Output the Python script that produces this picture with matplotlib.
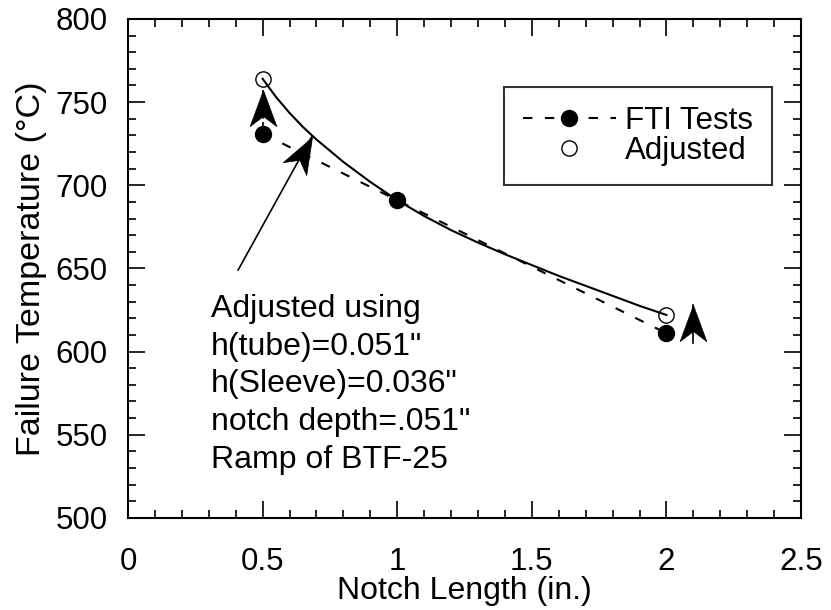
import matplotlib
matplotlib.use('Agg')
import numpy as np
import matplotlib.pyplot as plt
from matplotlib.ticker import MultipleLocator
from matplotlib.path import Path
from matplotlib.markers import MarkerStyle
from matplotlib.transforms import Affine2D

# ---- data ----
notch_tests = [0.5, 1.0, 2.0]
temp_tests = [731, 691, 611]
notch_adj = [0.5, 2.0]
temp_adj = [764, 622]
curve_x = [0.5, 0.55, 0.6, 0.65, 0.7, 0.8, 0.9, 1.0, 1.1, 1.2, 1.3, 1.4, 1.5,
           1.6, 1.7, 1.8, 1.9, 2.0]
curve_y = [764, 753, 743.5, 735, 727.5, 714, 702, 691, 681.5, 673, 665.5, 658.5,
           652, 645.5, 639.5, 633.5, 627.5, 622]

x_ticks = [0, 0.5, 1, 1.5, 2, 2.5]
x_tick_labels = ['0', '0.5', '1', '1.5', '2', '2.5']
y_ticks = [500, 550, 600, 650, 700, 750, 800]
y_tick_labels = ['500', '550', '600', '650', '700', '750', '800']

note_lines = ['Adjusted using', 'h(tube)=0.051"', 'h(Sleeve)=0.036"',
              'notch depth=.051"', 'Ramp of BTF-25']

# arrows: (start x, start y, tip x, tip y, dashed stem)
arrow_up_left = (0.5, 735, 0.5, 757.5, True)
arrow_note = (0.409, 649, 0.682, 729, False)
arrow_up_right = (2.1, 605, 2.1, 628, False)

plt.rcParams['font.family'] = ['Liberation Sans', 'DejaVu Sans']

fig = plt.figure(figsize=(8.31, 6.10), dpi=100)
ax = fig.add_axes([0.154, 0.151, 0.810, 0.818])
ax.set_xlim(0, 2.5)
ax.set_ylim(500, 800)

ax.plot(curve_x, curve_y, color='black', lw=1.5, zorder=2)
ax.plot(notch_tests, temp_tests, color='black', lw=1.5, dashes=(4.5, 6),
        marker='o', ms=11.5, mfc='black', mec='black', label='FTI Tests', zorder=3)
ax.plot(notch_adj, temp_adj, ls='none', marker='o', ms=11, mfc='none',
        mec='black', mew=1.0, label='Adjusted', zorder=3)

# stealth-like arrow head: tip at origin, pointing up
head_path = Path([(0, 0), (-0.37, -1.0), (0, -0.72), (0.37, -1.0), (0, 0)],
                 [Path.MOVETO, Path.LINETO, Path.LINETO, Path.LINETO, Path.CLOSEPOLY])


def arrow(a):
    x0, y0, x1, y1, dashed = a
    p0 = ax.transData.transform((x0, y0))
    p1 = ax.transData.transform((x1, y1))
    ang = np.degrees(np.arctan2(p1[1] - p0[1], p1[0] - p0[0])) - 90
    ax.plot([x0, x1], [y0, y1], color='black', lw=1.2,
            ls=(0, (3, 2)) if dashed else '-', zorder=4)
    m = MarkerStyle(head_path, transform=Affine2D().rotate_deg(ang))
    ax.plot([x1], [y1], ls='none', marker=m, ms=52, mfc='black', mec='black',
            mew=0.5, zorder=5)


arrow(arrow_up_left)
arrow(arrow_note)
arrow(arrow_up_right)

ax.text(0.308, 634.5, '\n'.join(note_lines), fontsize=23, va='top', ha='left',
        linespacing=1.33)

ax.set_xticks(x_ticks, x_tick_labels)
ax.set_yticks(y_ticks, y_tick_labels)
ax.xaxis.set_minor_locator(MultipleLocator(0.1))
ax.yaxis.set_minor_locator(MultipleLocator(10))
ax.tick_params(which='both', direction='in', top=True, right=True, width=1.2,
               colors='black')
ax.tick_params(which='major', length=12, labelsize=22.5)
ax.tick_params(which='minor', length=6)
ax.tick_params(axis='x', pad=21)
ax.tick_params(axis='y', pad=14.5)
for s in ax.spines.values():
    s.set_linewidth(1.5)

ax.set_xlabel('Notch Length (in.)', fontsize=23, labelpad=-1)
ax.set_ylabel('Failure Temperature (°C)', fontsize=24.5, labelpad=6.5)

leg = ax.legend(loc='upper right', bbox_to_anchor=(0.957, 0.864), borderaxespad=0,
                frameon=True, fancybox=False, edgecolor='black', fontsize=22.5,
                handlelength=3.0, handletextpad=0.29, labelspacing=0.02,
                borderpad=0.6, numpoints=1)
leg.get_frame().set_linewidth(1.5)

fig.savefig('out.png', dpi=100)
